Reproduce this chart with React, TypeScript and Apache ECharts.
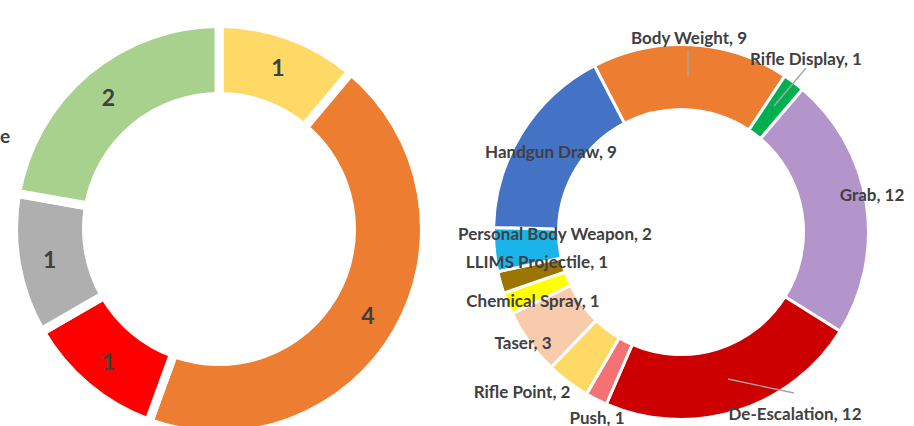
import React, { useEffect, useRef } from "react";
import * as echarts from "echarts";

// Left donut
const leftNames = ["Slice A", "Slice B", "Slice C", "Slice D", "Slice E"];
const leftValues = [1, 4, 1, 1, 2];
const leftColors = ["#FFD966", "#ED7D31", "#FF0000", "#AFAFAF", "#A9D18E"];

// Right donut
const rightNames = [
  "Body Weight",
  "Rifle Display",
  "Grab",
  "De-Escalation",
  "Push",
  "Rifle Point",
  "Taser",
  "Chemical Spray",
  "LLIMS Projectile",
  "Personal Body Weapon",
  "Handgun Draw",
];
const rightValues = [9, 1, 12, 12, 1, 2, 3, 1, 1, 2, 9];
const rightColors = [
  "#ED7D31",
  "#00B050",
  "#B394CB",
  "#CC0000",
  "#F47174",
  "#FFD966",
  "#F8CBAD",
  "#FFFF00",
  "#9C7400",
  "#19B4EA",
  "#4472C4",
];

// label placement (layout only)
const rightLabelSpots: Record<string, [number, number]> = {
  "Body Weight": [689, 37],
  "Rifle Display": [806, 58],
  Grab: [872, 194],
  "De-Escalation": [795, 413],
  Push: [597, 417],
  "Rifle Point": [522, 391],
  Taser: [523, 342],
  "Chemical Spray": [533, 300],
  "LLIMS Projectile": [537, 261],
  "Personal Body Weapon": [555, 233],
  "Handgun Draw": [551, 151],
};
const leaderLines: number[][][] = [
  [[688, 50], [688, 76]],
  [[806, 68], [774, 106]],
  [[794, 393], [728, 379]],
];

const FONT = "Lato, 'Open Sans', sans-serif";

export default function App() {
  const ref = useRef<HTMLDivElement>(null);
  useEffect(() => {
    if (!ref.current) return;
    const chart = echarts.init(ref.current, undefined, { renderer: "svg" });
    chart.setOption({
      animation: false,
      backgroundColor: "#FFFFFF",
      graphic: [
        {
          type: "text",
          left: 0,
          top: 126,
          style: {
            text: "e",
            fill: "#404040",
            font: `bold 19px ${FONT}`,
          },
        },
        ...leaderLines.map((pts) => ({
          type: "polyline",
          z: 100,
          shape: { points: pts },
          style: { stroke: "#A6A6A6", lineWidth: 1.4, fill: "none" },
        })),
      ],
      series: [
        {
          type: "pie",
          center: [219, 229],
          radius: [132.5, 205.5],
          startAngle: 90,
          clockwise: true,
          avoidLabelOverlap: false,
          itemStyle: { borderColor: "#FFFFFF", borderWidth: 9 },
          label: {
            show: true,
            position: "inside",
            formatter: "{c}",
            color: "#404040",
            fontFamily: FONT,
            fontWeight: "bold",
            fontSize: 23,
          },
          labelLine: { show: false },
          emphasis: { disabled: true },
          data: leftValues.map((v, i) => ({
            name: leftNames[i],
            value: v,
            itemStyle: { color: leftColors[i] },
          })),
        },
        {
          type: "pie",
          center: [681, 232],
          radius: [122.5, 187.5],
          startAngle: 117.5,
          clockwise: true,
          avoidLabelOverlap: false,
          itemStyle: { borderColor: "#FFFFFF", borderWidth: 3 },
          label: {
            show: true,
            position: "outside",
            formatter: "{b}, {c}",
            color: "#404040",
            fontFamily: FONT,
            fontWeight: "bold",
            fontSize: 17,
          },
          labelLine: { show: false },
          emphasis: { disabled: true },
          labelLayout: (params: any) => {
            const spot = rightLabelSpots[rightNames[params.dataIndex]];
            return {
              x: spot[0],
              y: spot[1],
              align: "center",
              verticalAlign: "middle",
            };
          },
          data: rightValues.map((v, i) => ({
            name: rightNames[i],
            value: v,
            itemStyle: { color: rightColors[i] },
          })),
        },
      ],
    });
    return () => chart.dispose();
  }, []);
  return (
    <div
      ref={ref}
      style={{ position: "absolute", left: 0, top: 0, width: 914, height: 426 }}
    />
  );
}
